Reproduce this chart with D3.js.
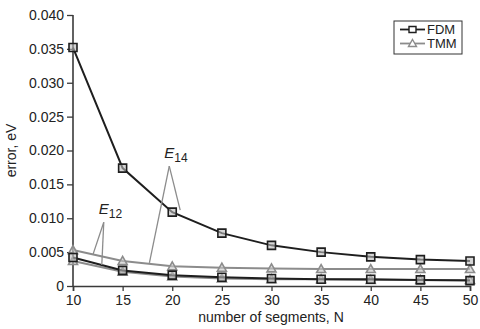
<!DOCTYPE html>
<html>
<head>
<meta charset="utf-8">
<script src="https://cdn.jsdelivr.net/npm/d3@7"></script>
<style>
  body { margin: 0; background: #fff; }
  svg text { font-family: "Liberation Sans", Arial, sans-serif; fill: #222; }
</style>
</head>
<body>
<div id="chart"></div>
<script>
// datos
const segments = [10, 15, 20, 25, 30, 35, 40, 45, 50];
const fdmE14 = [0.0352, 0.0174, 0.0109, 0.0078, 0.0060, 0.0050, 0.0043, 0.0039, 0.0037];
const tmmE14 = [0.0053, 0.0037, 0.0029, 0.0027, 0.0026, 0.0025, 0.0025, 0.0025, 0.0025];
const fdmE12 = [0.0042, 0.0023, 0.0016, 0.0013, 0.0011, 0.0010, 0.0010, 0.0009, 0.0008];
const tmmE12 = [0.0037, 0.0021, 0.0014, 0.0011, 0.0010, 0.0010, 0.0009, 0.0009, 0.0009];
const yTicks = [0, 0.005, 0.010, 0.015, 0.020, 0.025, 0.030, 0.035, 0.040];
const yTickLabels = ['0', '0.005', '0.010', '0.015', '0.020', '0.025', '0.030', '0.035', '0.040'];
const xTicks = [10, 15, 20, 25, 30, 35, 40, 45, 50];
// anotaciones (en unidades de datos): etiqueta, vertice, extremos
const annE14 = { label: [19.2, 0.0189], apex: [19.7, 0.0177], ends: [[17.7, 0.0034], [20.8, 0.0112]] };
const annE12 = { label: [12.6, 0.0106], apex: [13.1, 0.0094], ends: [[12.0, 0.0046], [12.9, 0.0031]] };

const COLOR_FDM = '#1e1e1e', COLOR_TMM = '#8c8c8c', COLOR_AXIS = '#3a3a3a';

let W = 480, H = 329;
let margin = {top: 15, right: 10, bottom: 43, left: 73};

let svg = d3.select('#chart').append('svg')
    .attr('width', W).attr('height', H);

let x = d3.scaleLinear().domain([10, 50]).range([margin.left, 470]);
let y = d3.scaleLinear().domain([0, 0.04]).range([H - margin.bottom, margin.top]);

// ejes
let yAxis = svg.append('g')
    .attr('transform', 'translate(' + margin.left + ',0)')
    .call(d3.axisLeft(y).tickValues(yTicks).tickSize(6).tickPadding(3)
        .tickFormat(function(d, i) { return yTickLabels[i]; }));
let xAxis = svg.append('g')
    .attr('transform', 'translate(0,' + (H - margin.bottom) + ')')
    .call(d3.axisBottom(x).tickValues(xTicks).tickSize(5).tickPadding(4).tickFormat(d3.format('d')));

[yAxis, xAxis].forEach(function(a) {
    a.selectAll('path').attr('stroke', COLOR_AXIS).attr('stroke-width', 1.6);
    a.selectAll('line').attr('stroke', COLOR_AXIS).attr('stroke-width', 1.3);
    a.selectAll('text').style('font-size', '14px').attr('fill', '#222');
});
yAxis.select('.domain').attr('d', 'M0,' + y(0) + 'V' + y(0.04));

svg.append('text')
    .attr('transform', 'translate(16,' + y(0.02) + ') rotate(-90)')
    .attr('text-anchor', 'middle')
    .style('font-size', '14px')
    .text('error, eV');
svg.append('text')
    .attr('x', 271).attr('y', 322)
    .attr('text-anchor', 'middle')
    .style('font-size', '14px')
    .text('number of segments, N');

let line = d3.line()
    .x(function(d) { return x(d[0]); })
    .y(function(d) { return y(d[1]); });

function drawSeries(values, color, marker) {
    let pts = segments.map(function(s, i) { return [s, values[i]]; });
    svg.append('path')
        .datum(pts)
        .attr('d', line)
        .attr('fill', 'none')
        .attr('stroke', color)
        .attr('stroke-width', 2);
    svg.selectAll(null)
        .data(pts)
        .enter()
        .append('path')
        .attr('transform', function(d) { return 'translate(' + x(d[0]) + ',' + y(d[1]) + ')'; })
        .attr('d', marker == 'square' ? 'M-4,-4H4V4H-4Z' : 'M0,-4.5L4.5,3.5H-4.5Z')
        .attr('fill', marker == 'square' ? '#bbb' : '#c8c8c8')
        .attr('fill-opacity', 0.6)
        .attr('stroke', color)
        .attr('stroke-width', 1.6);
}

drawSeries(tmmE12, COLOR_TMM, 'triangle');
drawSeries(tmmE14, COLOR_TMM, 'triangle');
drawSeries(fdmE12, COLOR_FDM, 'square');
drawSeries(fdmE14, COLOR_FDM, 'square');

// anotaciones E14 / E12
function drawAnn(a, sub) {
    a.ends.forEach(function(e) {
        svg.append('line')
            .attr('x1', x(a.apex[0])).attr('y1', y(a.apex[1]))
            .attr('x2', x(e[0])).attr('y2', y(e[1]))
            .attr('stroke', '#8c8c8c').attr('stroke-width', 1.3);
    });
    let t = svg.append('text')
        .attr('x', x(a.label[0])).attr('y', y(a.label[1]))
        .style('font-size', '15px');
    t.append('tspan').style('font-style', 'italic').text('E');
    t.append('tspan').attr('dy', 4).style('font-size', '12px').text(sub);
}
drawAnn(annE14, '14');
drawAnn(annE12, '12');

// leyenda
let legend = svg.append('g').attr('transform', 'translate(394,21)');
legend.append('rect')
    .attr('width', 68).attr('height', 33)
    .attr('fill', '#fff').attr('stroke', '#333').attr('stroke-width', 1);
[['FDM', COLOR_FDM, 'square'], ['TMM', COLOR_TMM, 'triangle']].forEach(function(d, i) {
    let gy = 8.5 + i * 14;
    legend.append('line')
        .attr('x1', 6).attr('x2', 31).attr('y1', gy).attr('y2', gy)
        .attr('stroke', d[1]).attr('stroke-width', 1.8);
    legend.append('path')
        .attr('transform', 'translate(18.5,' + gy + ')')
        .attr('d', d[2] == 'square' ? 'M-3.5,-3H3.5V3H-3.5Z' : 'M0,-4L4,3H-4Z')
        .attr('fill', '#fff').attr('stroke', d[1]).attr('stroke-width', 1.4);
    legend.append('text')
        .attr('x', 33).attr('y', gy + 4.5)
        .style('font-size', '13px')
        .text(d[0]);
});
</script>
</body>
</html>
